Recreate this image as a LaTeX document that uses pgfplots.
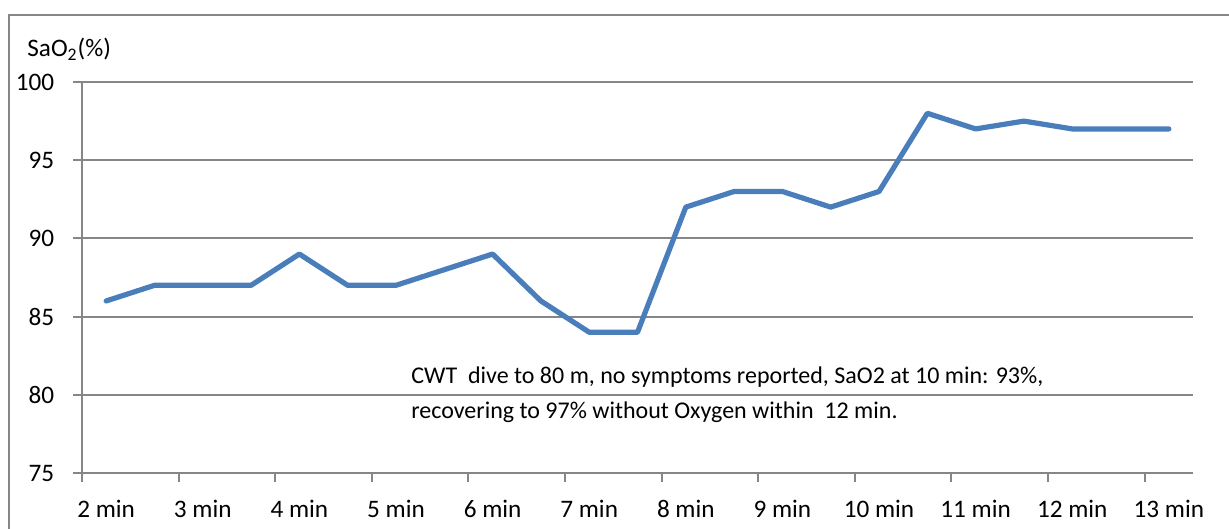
\documentclass[border=0pt]{standalone}
\usepackage{fontspec}
\setmainfont{Carlito}
\usepackage{pgfplots}
\pgfplotsset{compat=1.18}
\definecolor{lineblue}{RGB}{74,126,187}
\definecolor{gridgray}{RGB}{134,134,134}
\newcommand{\cfont}{\fontsize{12.6}{15}\selectfont}
\newcommand{\afont}{\fontsize{12}{15}\selectfont}

\begin{document}
\begin{tikzpicture}
% page and outer chart frame
\path[use as bounding box] (0,0) rectangle (614.5pt,-264.5pt);
\draw[gridgray,line width=1pt] (4.25pt,-270pt) -- (4.25pt,-7.75pt) -- (620pt,-7.75pt);
\node[anchor=base west,inner sep=0pt,font=\cfont] at (13.5pt,-28.5pt) {SaO\textsubscript{2}(\%)};

\begin{axis}[
  at={(41pt,-236.5pt)}, anchor=south west,
  scale only axis,
  width=555.5pt, height=195.5pt,
  xmin=-0.5, xmax=22.5,
  ymin=75, ymax=100,
  ytick={75,80,...,100},
  % ticks sit between categories, labels under every second category
  xtick={-0.5,1.5,...,21.5},
  xticklabels={2 min,3 min,4 min,5 min,6 min,7 min,8 min,9 min,10 min,11 min,12 min,13 min},
  tick align=outside,
  major tick length=4.25pt,
  tick style={gridgray,line width=1pt},
  axis x line*=bottom, axis y line*=left,
  axis line style={gridgray,line width=1pt,-},
  ymajorgrids, grid style={gridgray,line width=1pt},
  /pgf/number format/assume math mode=true,
  tick label style={font=\cfont, text=black},
  yticklabel style={anchor=east, inner sep=0pt, xshift=-9.5pt},
  xticklabel style={anchor=north, inner sep=0pt, xshift=12.076pt, yshift=-9pt},
  clip=false,
]
\addplot[lineblue, line width=2.6pt, line join=round, line cap=round] coordinates {
  (0,86) (1,87) (2,87) (3,87) (4,89) (5,87) (6,87) (7,88) (8,89)
  (9,86) (10,84) (11,84) (12,92) (13,93) (14,93) (15,92) (16,93)
  (17,98) (18,97) (19,97.5) (20,97) (21,97) (22,97)
};
\node[anchor=base west,inner sep=0pt,font=\afont] at (axis cs:6.31,80.73) {CWT\ \ dive to 80 m, no symptoms reported, SaO2 at 10 min: 93\%,};
\node[anchor=base west,inner sep=0pt,font=\afont] at (axis cs:6.31,78.5) {recovering to 97\% without Oxygen within\ \ 12 min.};
\end{axis}
\end{tikzpicture}
\end{document}
